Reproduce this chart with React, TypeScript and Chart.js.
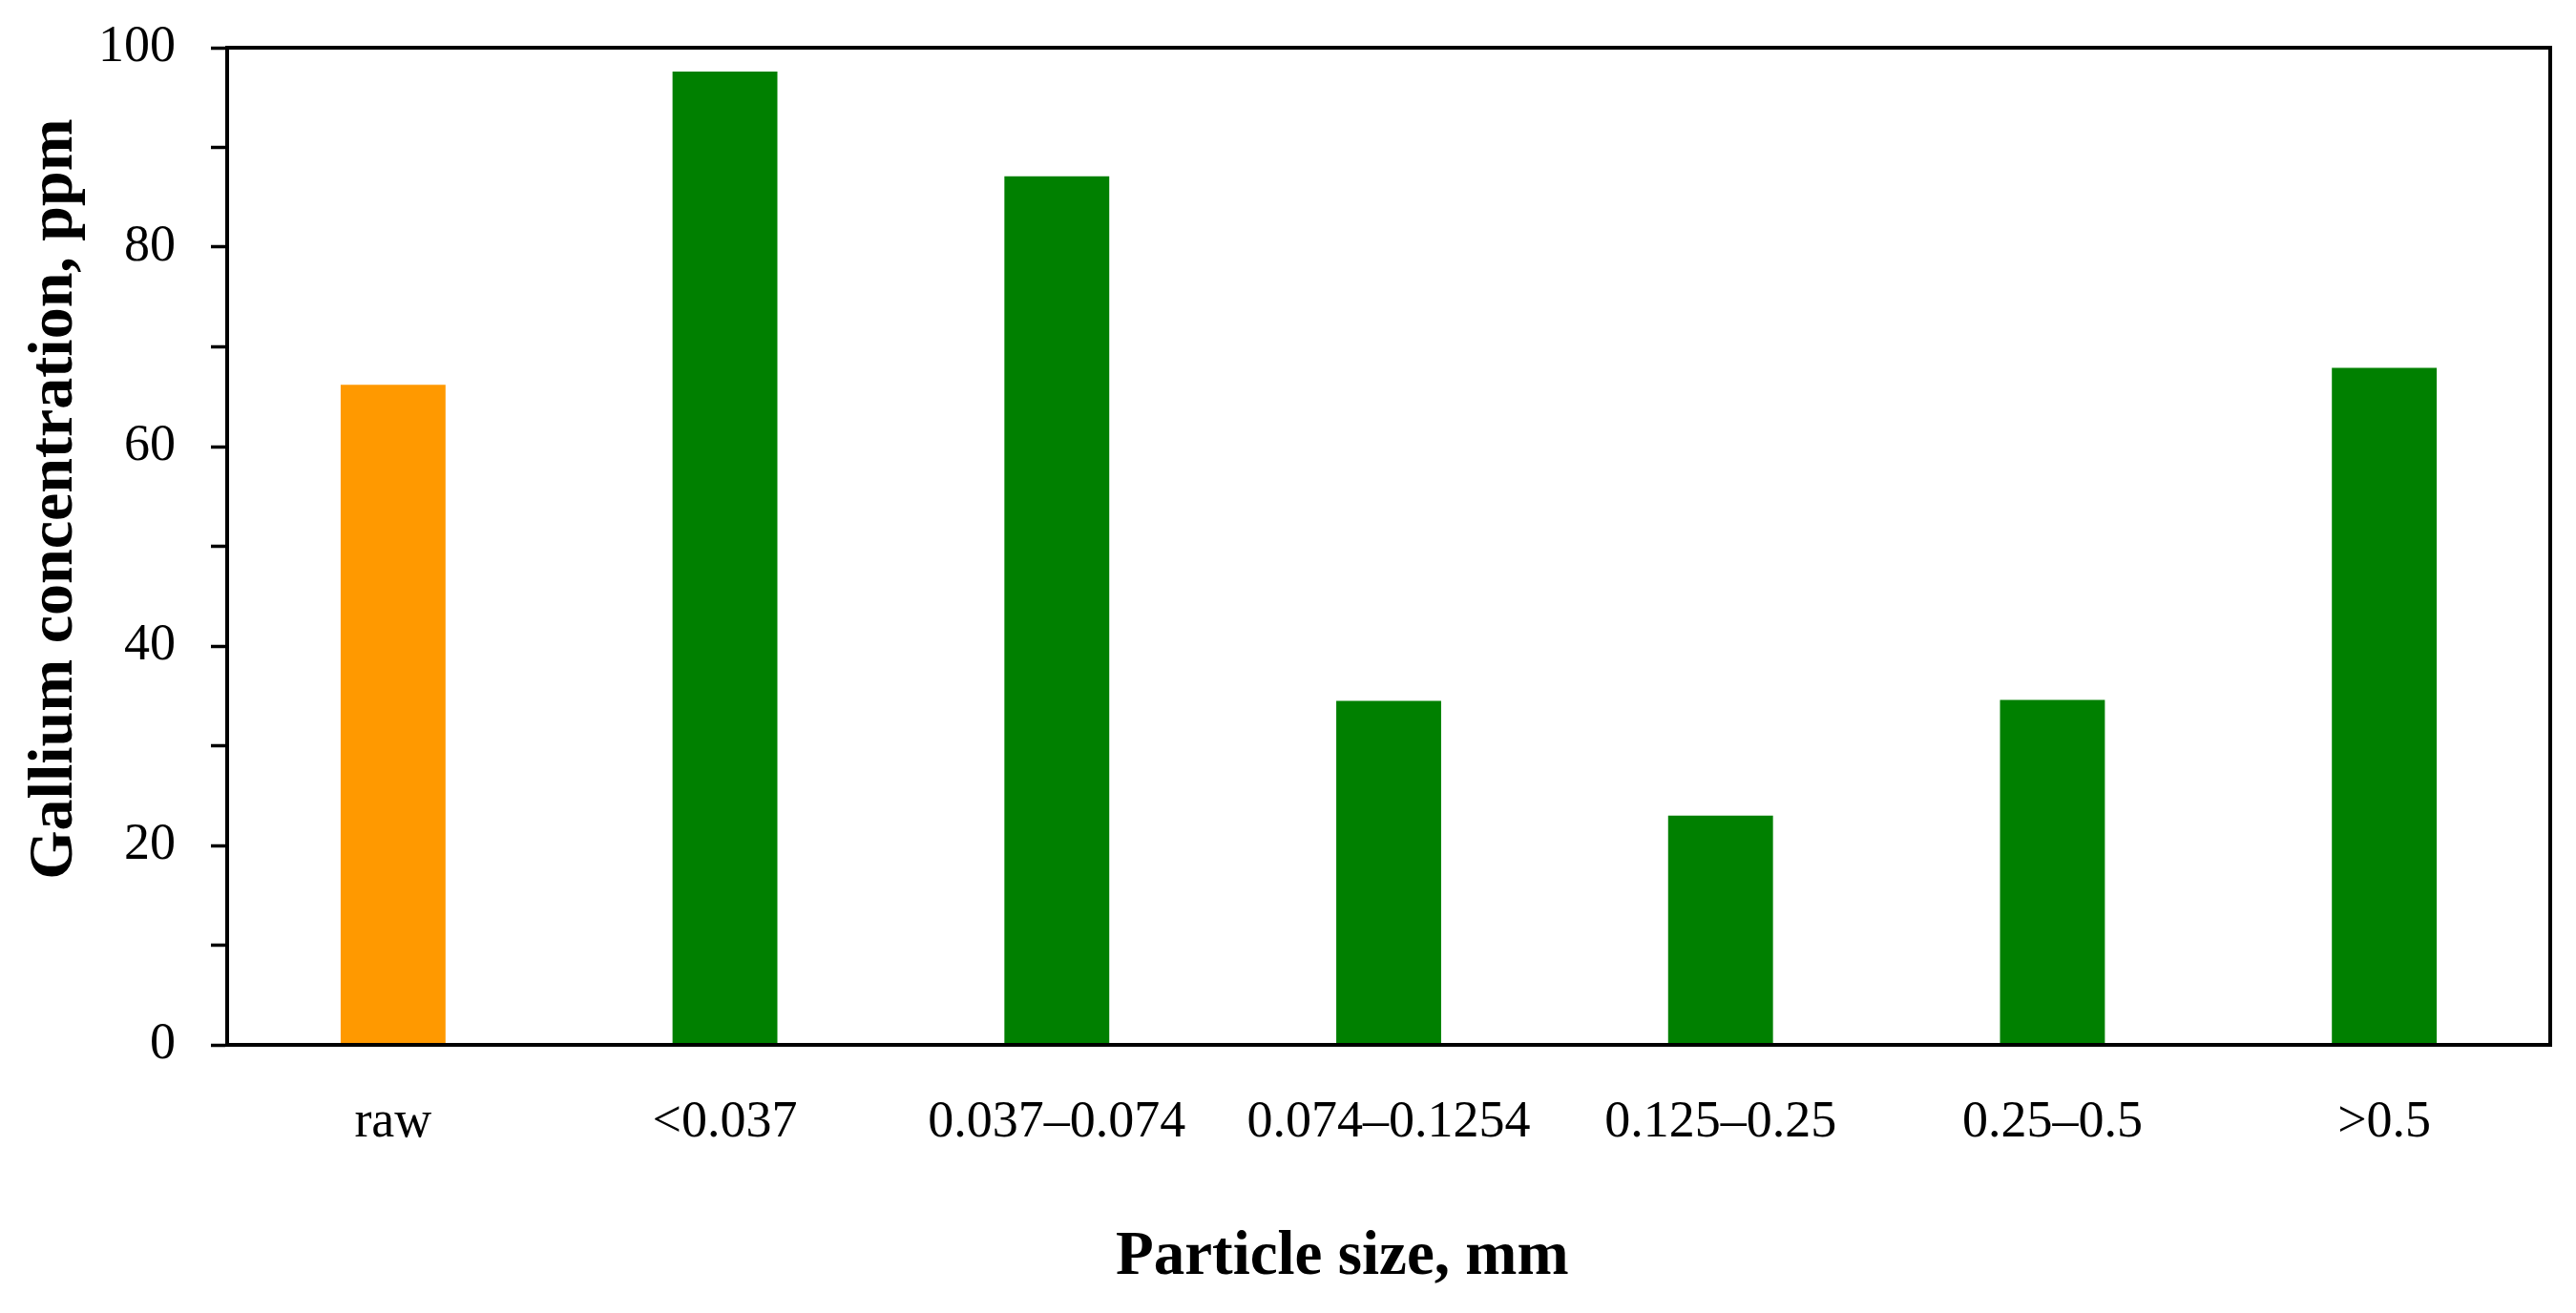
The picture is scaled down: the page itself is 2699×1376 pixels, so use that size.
import React, { useEffect, useRef } from "react";
import { Chart, registerables } from "chart.js";

Chart.register(...registerables);

const categories = ["raw", "<0.037", "0.037–0.074", "0.074–0.1254", "0.125–0.25", "0.25–0.5", ">0.5"];
const galliumPpm = [66.2, 97.6, 87.1, 34.5, 23.0, 34.6, 67.9];
const barColors = ["#FF9900", "#008000", "#008000", "#008000", "#008000", "#008000", "#008000"];
const yMin = 0;
const yMax = 100;
const yStep = 10;
const yLabelStep = 20;
const xTitle = "Particle size, mm";
const yTitle = "Gallium concentration, ppm";

const W = 2699;
const H = 1376;
const FONT = "'Liberation Serif', 'Times New Roman', serif";

const framePlugin = {
  id: "frame",
  afterDraw(chart: any) {
    const { ctx, chartArea } = chart;
    ctx.save();
    ctx.strokeStyle = "#000";
    ctx.lineWidth = 4;
    ctx.strokeRect(chartArea.left, chartArea.top, chartArea.right - chartArea.left, chartArea.bottom - chartArea.top);
    ctx.restore();
  },
};

export default function App() {
  const ref = useRef<HTMLCanvasElement | null>(null);

  useEffect(() => {
    if (!ref.current) return;
    const chart = new Chart(ref.current, {
      type: "bar",
      data: {
        labels: categories,
        datasets: [
          {
            data: galliumPpm,
            backgroundColor: barColors,
            borderWidth: 0,
            categoryPercentage: 1,
            barPercentage: 0.316,
          },
        ],
      },
      options: {
        animation: false,
        responsive: false,
        maintainAspectRatio: false,
        layout: { padding: { top: 50, right: 27, left: 0, bottom: 0 } },
        plugins: {
          legend: { display: false },
          tooltip: { enabled: false },
        },
        scales: {
          x: {
            grid: { display: false },
            border: { display: true, color: "#000", width: 4 },
            ticks: {
              color: "#000",
              font: { family: FONT, size: 54 },
              padding: 41,
              maxRotation: 0,
              autoSkip: false,
            },
            title: {
              display: true,
              text: xTitle + "\u00A0\u00A0\u00A0\u00A0\u00A0\u00A0",
              color: "#000",
              font: { family: FONT, size: 65, weight: "bold" },
              padding: { top: 0, bottom: 19 },
            },
            afterFit(scale: any) {
              scale.height = 281;
              scale.paddingLeft = 0;
              scale.paddingRight = 0;
            },
          },
          y: {
            min: yMin,
            max: yMax,
            grid: {
              display: true,
              drawOnChartArea: false,
              drawTicks: true,
              tickLength: 17,
              tickWidth: 3.5,
              tickColor: "#000",
            },
            border: { display: true, color: "#000", width: 4 },
            ticks: {
              stepSize: yStep,
              autoSkip: false,
              color: "#000",
              font: { family: FONT, size: 54 },
              padding: 37,
              callback: (v: any) => (Number(v) % yLabelStep === 0 ? String(v) : ""),
            },
            title: {
              display: true,
              text: "\u00A0\u00A0\u00A0\u00A0\u00A0\u00A0" + yTitle,
              color: "#000",
              font: { family: FONT, size: 66, weight: "bold" },
              padding: { top: 18, bottom: 0 },
            },
            afterFit(scale: any) {
              scale.width = 238;
              scale.paddingTop = 0;
              scale.paddingBottom = 0;
            },
          },
        },
      },
      plugins: [framePlugin],
    });
    return () => chart.destroy();
  }, []);

  return (
    <div style={{ position: "fixed", left: 0, top: 0, width: W, height: H, background: "#fff" }}>
      <canvas ref={ref} width={W} height={H} style={{ display: "block", width: W, height: H }} />
    </div>
  );
}
